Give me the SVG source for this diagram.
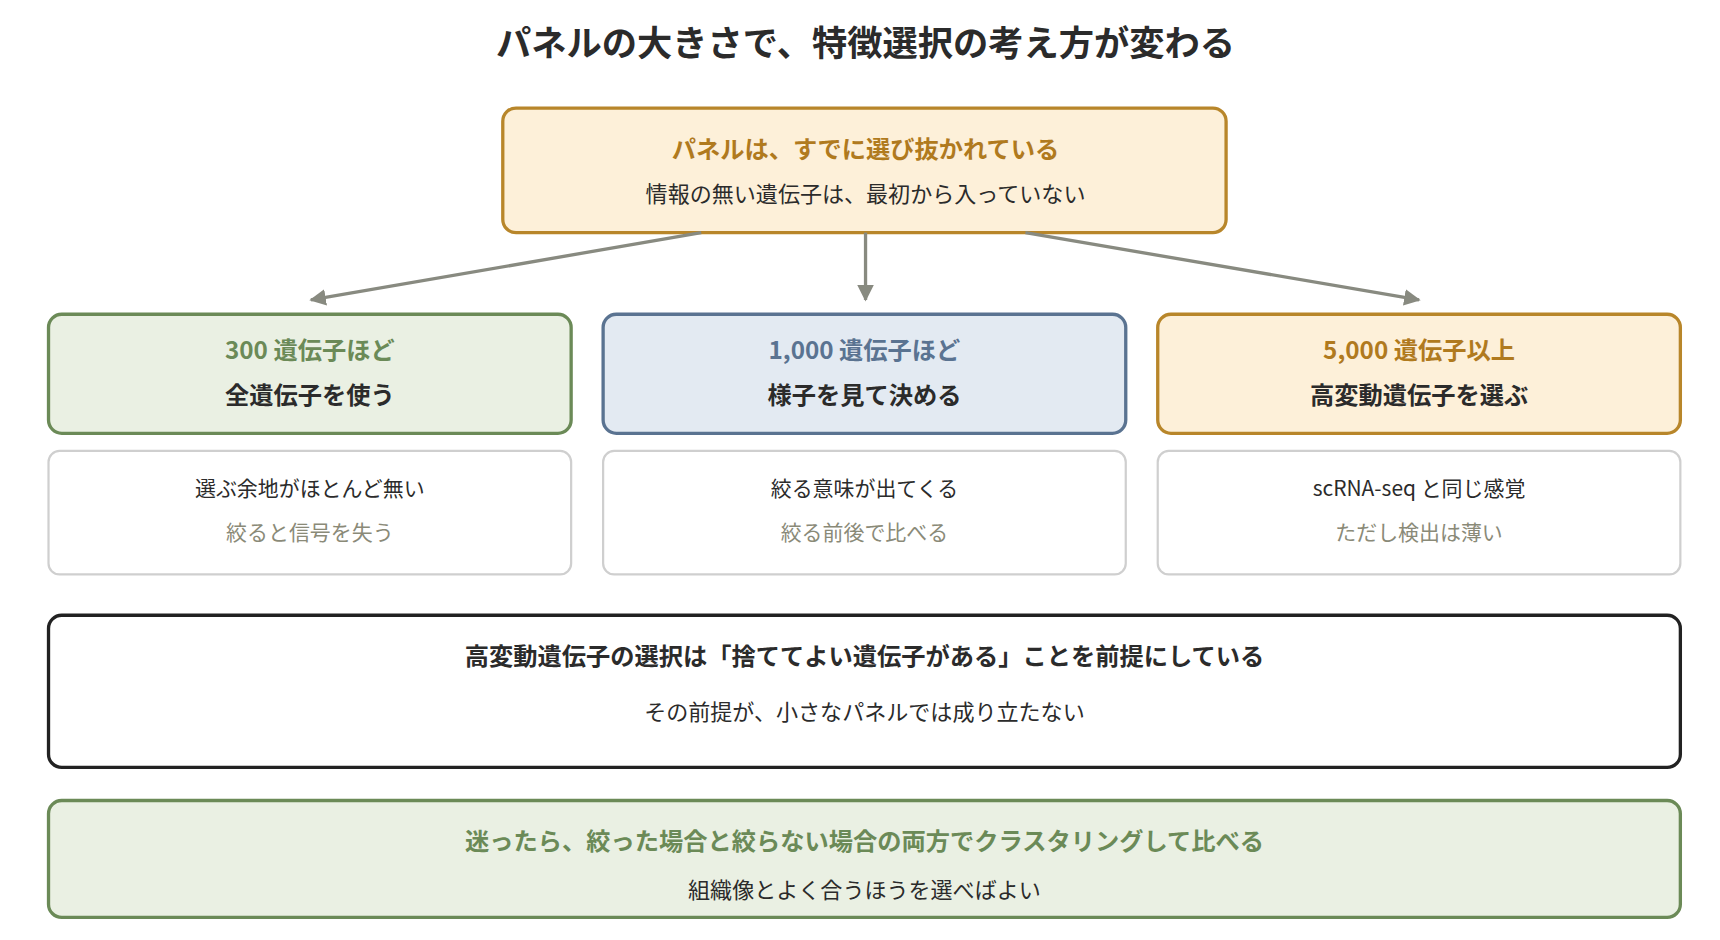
<svg xmlns="http://www.w3.org/2000/svg" width="1720" height="940" viewBox="0 0 1720 940">
<defs>
<marker id="ah" viewBox="0 0 10 10" refX="9" refY="5" markerWidth="5" markerHeight="5" orient="auto"><path d="M0,0 L10,5 L0,10 z" fill="#888a80"/></marker>
<style>
text{font-family:"Noto Sans CJK JP","Noto Sans",sans-serif;text-anchor:middle;dominant-baseline:middle;fill:#2b2b2b}
.b{font-weight:bold}
.t1{font-size:22px;font-weight:bold}
.t2{font-size:20px}
.s1{font-size:19px}
.g{fill:#6b8a57}.bl{fill:#5a7391}.o{fill:#b07a1e}.m{fill:#8a8a78}
.sub{fill:#fff;stroke:#cfcfcf;stroke-width:2}
.conn line{stroke:#888a80;stroke-width:3;marker-end:url(#ah)}
</style>
</defs>
<rect width="1720" height="940" fill="#fff"/>
<g transform="scale(1.1026)">
<text x="785" y="42" class="b" style="font-size:32px">パネルの大きさで、特徴選択の考え方が変わる</text>
<g id="top"><rect x="456" y="98" width="656" height="113" rx="12" fill="#fdf0d9" stroke="#b8862a" stroke-width="3"/>
<text x="785" y="137" class="t1 o">パネルは、すでに選び抜かれている</text>
<text x="785" y="178" class="t2">情報の無い遺伝子は、最初から入っていない</text></g>
<g class="conn" id="connectors">
<line x1="636" y1="211" x2="282" y2="272"/>
<line x1="785" y1="211" x2="785" y2="272"/>
<line x1="930" y1="211" x2="1287" y2="272"/>
</g>
<g id="n300"><rect x="44" y="285" width="474" height="108" rx="12" fill="#eaf0e3" stroke="#6b8a57" stroke-width="3"/>
<text x="281" y="320" class="t1 g">300 遺伝子ほど</text><text x="281" y="360" class="t1">全遺伝子を使う</text></g>
<g id="n1000"><rect x="547" y="285" width="474" height="108" rx="12" fill="#e3eaf2" stroke="#5a7391" stroke-width="3"/>
<text x="784" y="320" class="t1 bl">1,000 遺伝子ほど</text><text x="784" y="360" class="t1">様子を見て決める</text></g>
<g id="n5000"><rect x="1050" y="285" width="474" height="108" rx="12" fill="#fdf0d9" stroke="#b8862a" stroke-width="3"/>
<text x="1287" y="320" class="t1 o">5,000 遺伝子以上</text><text x="1287" y="360" class="t1">高変動遺伝子を選ぶ</text></g>
<g id="d300"><rect x="44" y="409" width="474" height="112" rx="10" class="sub"/>
<text x="281" y="445" class="s1">選ぶ余地がほとんど無い</text><text x="281" y="485" class="s1 m">絞ると信号を失う</text></g>
<g id="d1000"><rect x="547" y="409" width="474" height="112" rx="10" class="sub"/>
<text x="784" y="445" class="s1">絞る意味が出てくる</text><text x="784" y="485" class="s1 m">絞る前後で比べる</text></g>
<g id="d5000"><rect x="1050" y="409" width="474" height="112" rx="10" class="sub"/>
<text x="1287" y="445" class="s1">scRNA-seq と同じ感覚</text><text x="1287" y="485" class="s1 m">ただし検出は薄い</text></g>
<g id="premise"><rect x="44" y="558" width="1480" height="138" rx="12" fill="#fff" stroke="#222" stroke-width="3"/>
<text x="784" y="597" class="t1">高変動遺伝子の選択は「捨ててよい遺伝子がある」ことを前提にしている</text>
<text x="784" y="648" class="t2">その前提が、小さなパネルでは成り立たない</text></g>
<g id="advice"><rect x="44" y="726" width="1480" height="106" rx="12" fill="#eaf0e3" stroke="#6b8a57" stroke-width="3"/>
<text x="784" y="765" class="t1 g">迷ったら、絞った場合と絞らない場合の両方でクラスタリングして比べる</text>
<text x="784" y="809" class="t2">組織像とよく合うほうを選べばよい</text></g>
</g>
</svg>
